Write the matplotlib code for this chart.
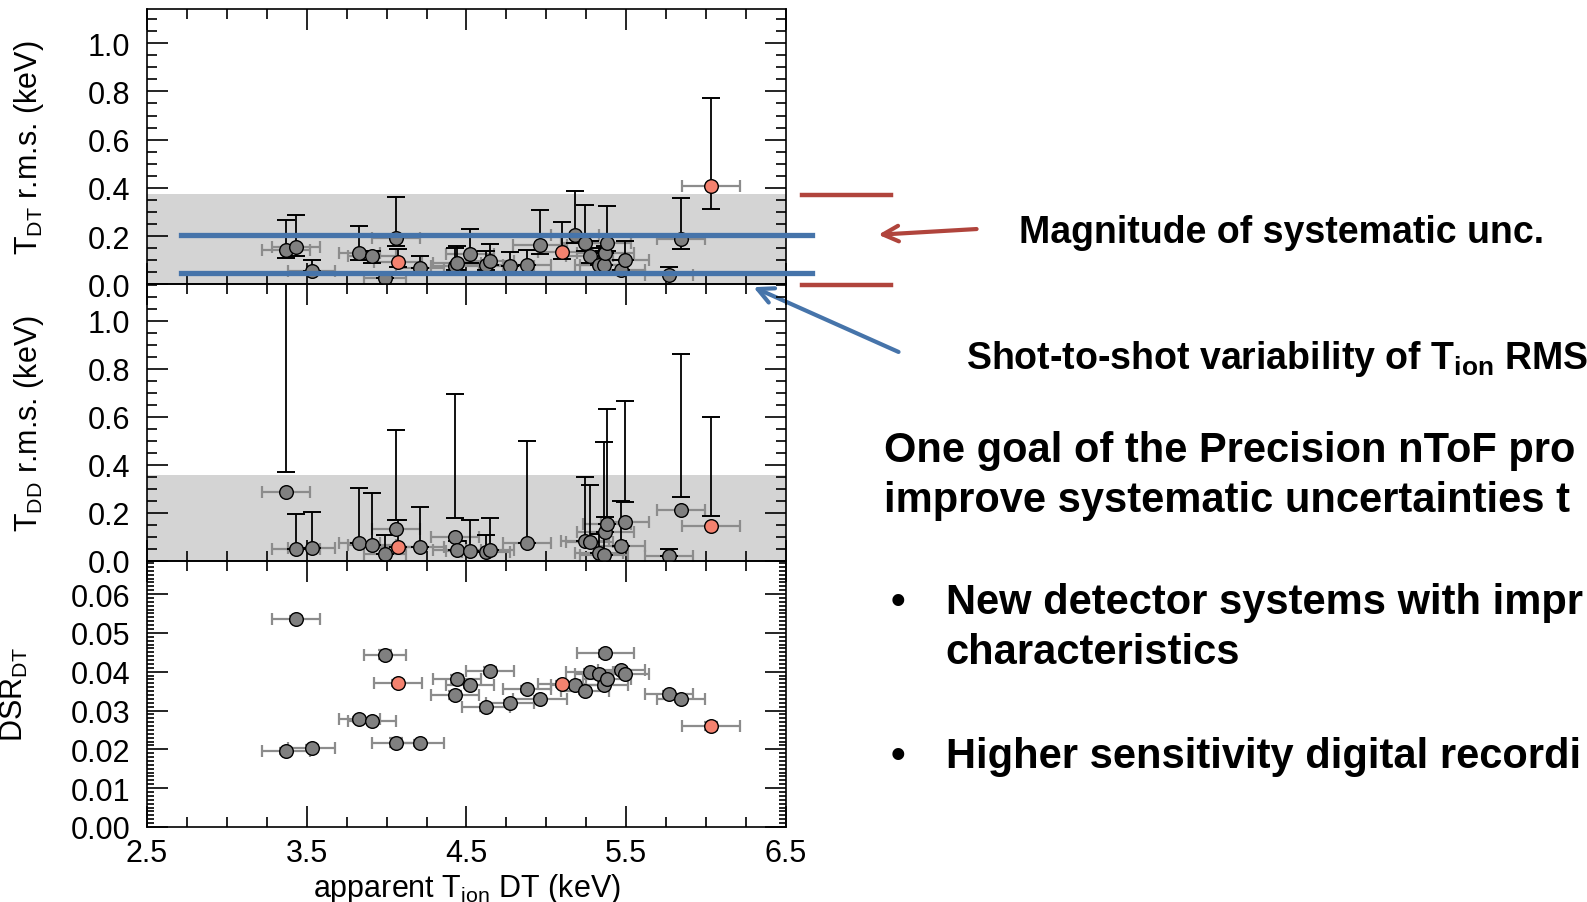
import numpy as np
import matplotlib
matplotlib.use("Agg")
import matplotlib.pyplot as plt
from matplotlib.ticker import MultipleLocator, FixedLocator, FormatStrFormatter

plt.rcParams['font.family'] = ['Liberation Sans', 'DejaVu Sans']
plt.rcParams['mathtext.fontset'] = 'custom'
plt.rcParams['mathtext.rm'] = 'Liberation Sans'
plt.rcParams['mathtext.it'] = 'Liberation Sans:italic'
plt.rcParams['mathtext.bf'] = 'Liberation Sans:bold'

# ---------------- data (one entry per shot) ----------------
t_ion = [3.37, 3.43, 3.53, 3.83, 3.91, 3.99, 4.06, 4.07, 4.21, 4.43,
         4.44, 4.52, 4.62, 4.65, 4.77, 4.88, 4.96, 5.10, 5.18, 5.24,
         5.27, 5.33, 5.36, 5.37, 5.38, 5.47, 5.49, 5.77, 5.84, 6.03]
t_ion_err = [0.15, 0.15, 0.15, 0.13, 0.15, 0.13, 0.15, 0.15, 0.15, 0.15,
             0.15, 0.15, 0.15, 0.15, 0.15, 0.15, 0.17, 0.15, 0.15, 0.15,
             0.15, 0.15, 0.15, 0.18, 0.15, 0.15, 0.15, 0.15, 0.15, 0.18]
highlight = [0, 0, 0, 0, 0, 0, 0, 1, 0, 0,
             0, 0, 0, 0, 0, 0, 0, 1, 0, 0,
             0, 0, 0, 0, 0, 0, 0, 0, 0, 1]

# T_DT r.m.s. and the extent of its (one-sided) error bar
tdt = [0.144, 0.154, 0.054, 0.131, 0.117, 0.026, 0.193, 0.092, 0.068, 0.075,
       0.090, 0.124, 0.079, 0.096, 0.075, 0.079, 0.163, 0.136, 0.204, 0.172,
       0.117, 0.082, 0.079, 0.130, 0.172, 0.061, 0.103, 0.040, 0.189, 0.408]
tdt_lo = [0.108, 0.117, 0.054, 0.099, 0.090, 0.026, 0.160, 0.070, 0.068, 0.060,
          0.060, 0.090, 0.060, 0.080, 0.075, 0.079, 0.124, 0.105, 0.170, 0.140,
          0.090, 0.080, 0.079, 0.130, 0.140, 0.061, 0.103, 0.040, 0.147, 0.311]
tdt_hi = [0.268, 0.288, 0.103, 0.244, 0.140, 0.050, 0.363, 0.147, 0.117, 0.150,
          0.158, 0.231, 0.140, 0.169, 0.133, 0.142, 0.308, 0.258, 0.386, 0.328,
          0.180, 0.150, 0.140, 0.160, 0.325, 0.100, 0.180, 0.071, 0.358, 0.774]

# T_DD r.m.s.
tdd = [0.288, 0.049, 0.051, 0.072, 0.067, 0.028, 0.132, 0.058, 0.058, 0.100,
       0.044, 0.039, 0.035, 0.044, np.nan, 0.072, np.nan, np.nan, np.nan, 0.083,
       0.076, 0.031, 0.025, 0.118, 0.153, 0.063, 0.163, 0.021, 0.211, 0.146]
tdd_lo = [0.368, 0.049, 0.051, 0.072, 0.067, 0.028, 0.169, 0.058, 0.058, 0.178,
          0.044, 0.039, 0.035, 0.044, np.nan, 0.072, np.nan, np.nan, np.nan, 0.083,
          0.076, 0.031, 0.025, 0.118, 0.153, 0.063, 0.243, 0.021, 0.264, 0.185]
tdd_hi = [1.300, 0.194, 0.201, 0.301, 0.281, 0.107, 0.546, 0.170, 0.225, 0.694,
          0.080, 0.169, 0.105, 0.178, np.nan, 0.497, np.nan, np.nan, np.nan, 0.350,
          0.317, 0.110, 0.493, 0.180, 0.632, 0.250, 0.664, 0.049, 0.861, 0.601]

# DSR_DT
dsr = [0.0196, 0.0537, 0.0203, 0.0277, 0.0274, 0.0444, 0.0217, 0.0371, 0.0217, 0.0340,
       0.0381, 0.0366, 0.0308, 0.0403, 0.0319, 0.0355, 0.0330, 0.0368, 0.0366, 0.0351,
       0.0398, 0.0394, 0.0365, 0.0447, 0.0381, 0.0405, 0.0394, 0.0343, 0.0330, 0.0260]
dsr_err = [0.0008, 0.0007, 0.0008, 0.0007, 0.0007, 0.0012, 0.0012, 0.0008, 0.0008, 0.0010,
           0.0010, 0.0008, 0.0008, 0.0008, 0.0008, 0.0008, 0.0008, 0.0008, 0.0008, 0.0008,
           0.0008, 0.0008, 0.0008, 0.0010, 0.0008, 0.0008, 0.0008, 0.0008, 0.0008, 0.0010]

x_ticks = [2.5, 3.5, 4.5, 5.5, 6.5]
dt_band = 0.376      # grey band, T_DT panel
dd_band = 0.358      # grey band, T_DD panel
shot_var = [0.048, 0.205]   # blue lines (shot-to-shot variability)

# slide text, as much of it as shows on the slide
body_lines = ['One goal of the Precision nToF pro',
              'improve systematic uncertainties t']
bullet_1 = ['New detector systems with impr', 'characteristics']
bullet_2 = ['Higher sensitivity digital recordi']

x = np.array(t_ion)
red = np.array(highlight) == 1
GREY = '#808080'
SALMON = '#f4826f'
BLUE = '#4674aa'
BRICK = '#b0443c'

fig = plt.figure(figsize=(15.87, 9.03), dpi=100)
ax1 = fig.add_axes([0.0926, 0.6840, 0.4027, 0.3050], facecolor='none')
ax2 = fig.add_axes([0.0926, 0.3780, 0.4027, 0.3060], facecolor='none')
ax3 = fig.add_axes([0.0926, 0.0831, 0.4027, 0.2949], facecolor='none')


def draw_points(ax, y, lo, hi, yerr=None):
    y = np.array(y, dtype=float)
    ax.errorbar(x, y, xerr=t_ion_err, fmt='none', ecolor='#8c8c8c',
                elinewidth=1.6, capsize=4, capthick=1.6, zorder=2)
    if yerr is not None:
        ax.errorbar(x, y, yerr=yerr, fmt='none', ecolor='#8c8c8c',
                    elinewidth=1.6, capsize=5, capthick=1.6, zorder=2)
    else:
        ax.vlines(x, lo, hi, color='black', lw=1.3, zorder=2)
        ax.plot(x, lo, ls='none', marker='_', ms=13, mew=1.4, color='black', zorder=2)
        ax.plot(x, hi, ls='none', marker='_', ms=13, mew=1.4, color='black', zorder=2)
    ax.plot(x[~red], y[~red], 'o', ms=9.8, mfc=GREY, mec='black', mew=1, zorder=3)
    ax.plot(x[red], y[red], 'o', ms=9.8, mfc=SALMON, mec='black', mew=1, zorder=3)


ax1.axhspan(0, dt_band, color='#d4d4d4', lw=0, zorder=0)
ax2.axhspan(0, dd_band, color='#d4d4d4', lw=0, zorder=0)
draw_points(ax1, tdt, tdt_lo, tdt_hi)
draw_points(ax2, tdd, tdd_lo, tdd_hi)
draw_points(ax3, dsr, None, None, yerr=dsr_err)

for ax in (ax1, ax2, ax3):
    ax.set_xlim(2.5, 6.5)
    ax.xaxis.set_major_locator(FixedLocator(x_ticks))
    ax.xaxis.set_minor_locator(MultipleLocator(0.25))
    ax.tick_params(which='both', direction='in', top=True, right=True,
                   width=1.2, labelsize=22)
    ax.tick_params(which='major', length=15)
    ax.tick_params(which='minor', length=7)
    ax.tick_params(axis='y', pad=12)
    ax.tick_params(axis='x', pad=8)
    for s in ax.spines.values():
        s.set_linewidth(1.2)

ax1.set_ylim(0, 1.142)
ax2.set_ylim(0, 1.152)
ax3.set_ylim(0, 0.0686)
for ax in (ax1, ax2):
    ax.yaxis.set_major_locator(MultipleLocator(0.2))
    ax.yaxis.set_minor_locator(MultipleLocator(0.05))
    ax.yaxis.set_major_formatter(FormatStrFormatter('%.1f'))
    ax.tick_params(axis='x', labelbottom=False)
ax3.yaxis.set_major_locator(MultipleLocator(0.01))
ax3.yaxis.set_minor_locator(MultipleLocator(0.001))
ax3.yaxis.set_major_formatter(FormatStrFormatter('%.2f'))
ax3.tick_params(axis='y', which='minor', length=5)
ax3.xaxis.set_major_formatter(FormatStrFormatter('%.1f'))

ax1.set_ylabel('T$_{\\rm DT}$ r.m.s. (keV)', fontsize=22)
ax2.set_ylabel('T$_{\\rm DD}$ r.m.s. (keV)', fontsize=22)
ax3.set_ylabel('DSR$_{\\rm DT}$', fontsize=22)
ax1.yaxis.set_label_coords(-0.158, 0.5)
ax2.yaxis.set_label_coords(-0.158, 0.5)
ax3.yaxis.set_label_coords(-0.183, 0.5)
ax3.set_xlabel('apparent T$_{\\rm ion}$ DT (keV)', fontsize=22, labelpad=2)

# annotations on the T_DT panel
for yv in shot_var:
    ax1.plot([2.71, 6.66], [yv, yv], color=BLUE, lw=3.8, clip_on=False, zorder=5)
for yv in (-0.004, dt_band - 0.004):
    ax1.plot([6.60, 7.16], [yv, yv], color=BRICK, lw=3.2, clip_on=False, zorder=5)
ax1.annotate('', xy=(7.06, 0.205), xytext=(7.71, 0.23), annotation_clip=False,
             arrowprops=dict(arrowstyle='->', color=BRICK, lw=3, mutation_scale=28))
ax1.annotate('', xy=(6.28, -0.007), xytext=(7.22, -0.285), annotation_clip=False,
             arrowprops=dict(arrowstyle='->', color=BLUE, lw=3, mutation_scale=28))

fig.text(0.642, 0.742, 'Magnitude of systematic unc.', fontsize=27,
         fontweight='bold', va='center')
fig.text(0.609, 0.602, 'Shot-to-shot variability of T$_{\\mathbf{ion}}$ RMS',
         fontsize=27, fontweight='bold', va='center')

fs = 30
fig.text(0.557, 0.501, body_lines[0], fontsize=fs, fontweight='bold', va='center')
fig.text(0.557, 0.445, body_lines[1], fontsize=fs, fontweight='bold', va='center')
fig.text(0.561, 0.332, '\u2022', fontsize=fs, fontweight='bold', va='center')
fig.text(0.596, 0.332, bullet_1[0], fontsize=fs, fontweight='bold', va='center')
fig.text(0.596, 0.277, bullet_1[1], fontsize=fs, fontweight='bold', va='center')
fig.text(0.561, 0.162, '\u2022', fontsize=fs, fontweight='bold', va='center')
fig.text(0.596, 0.162, bullet_2[0], fontsize=fs, fontweight='bold', va='center')

fig.savefig('out.png', dpi=100)
